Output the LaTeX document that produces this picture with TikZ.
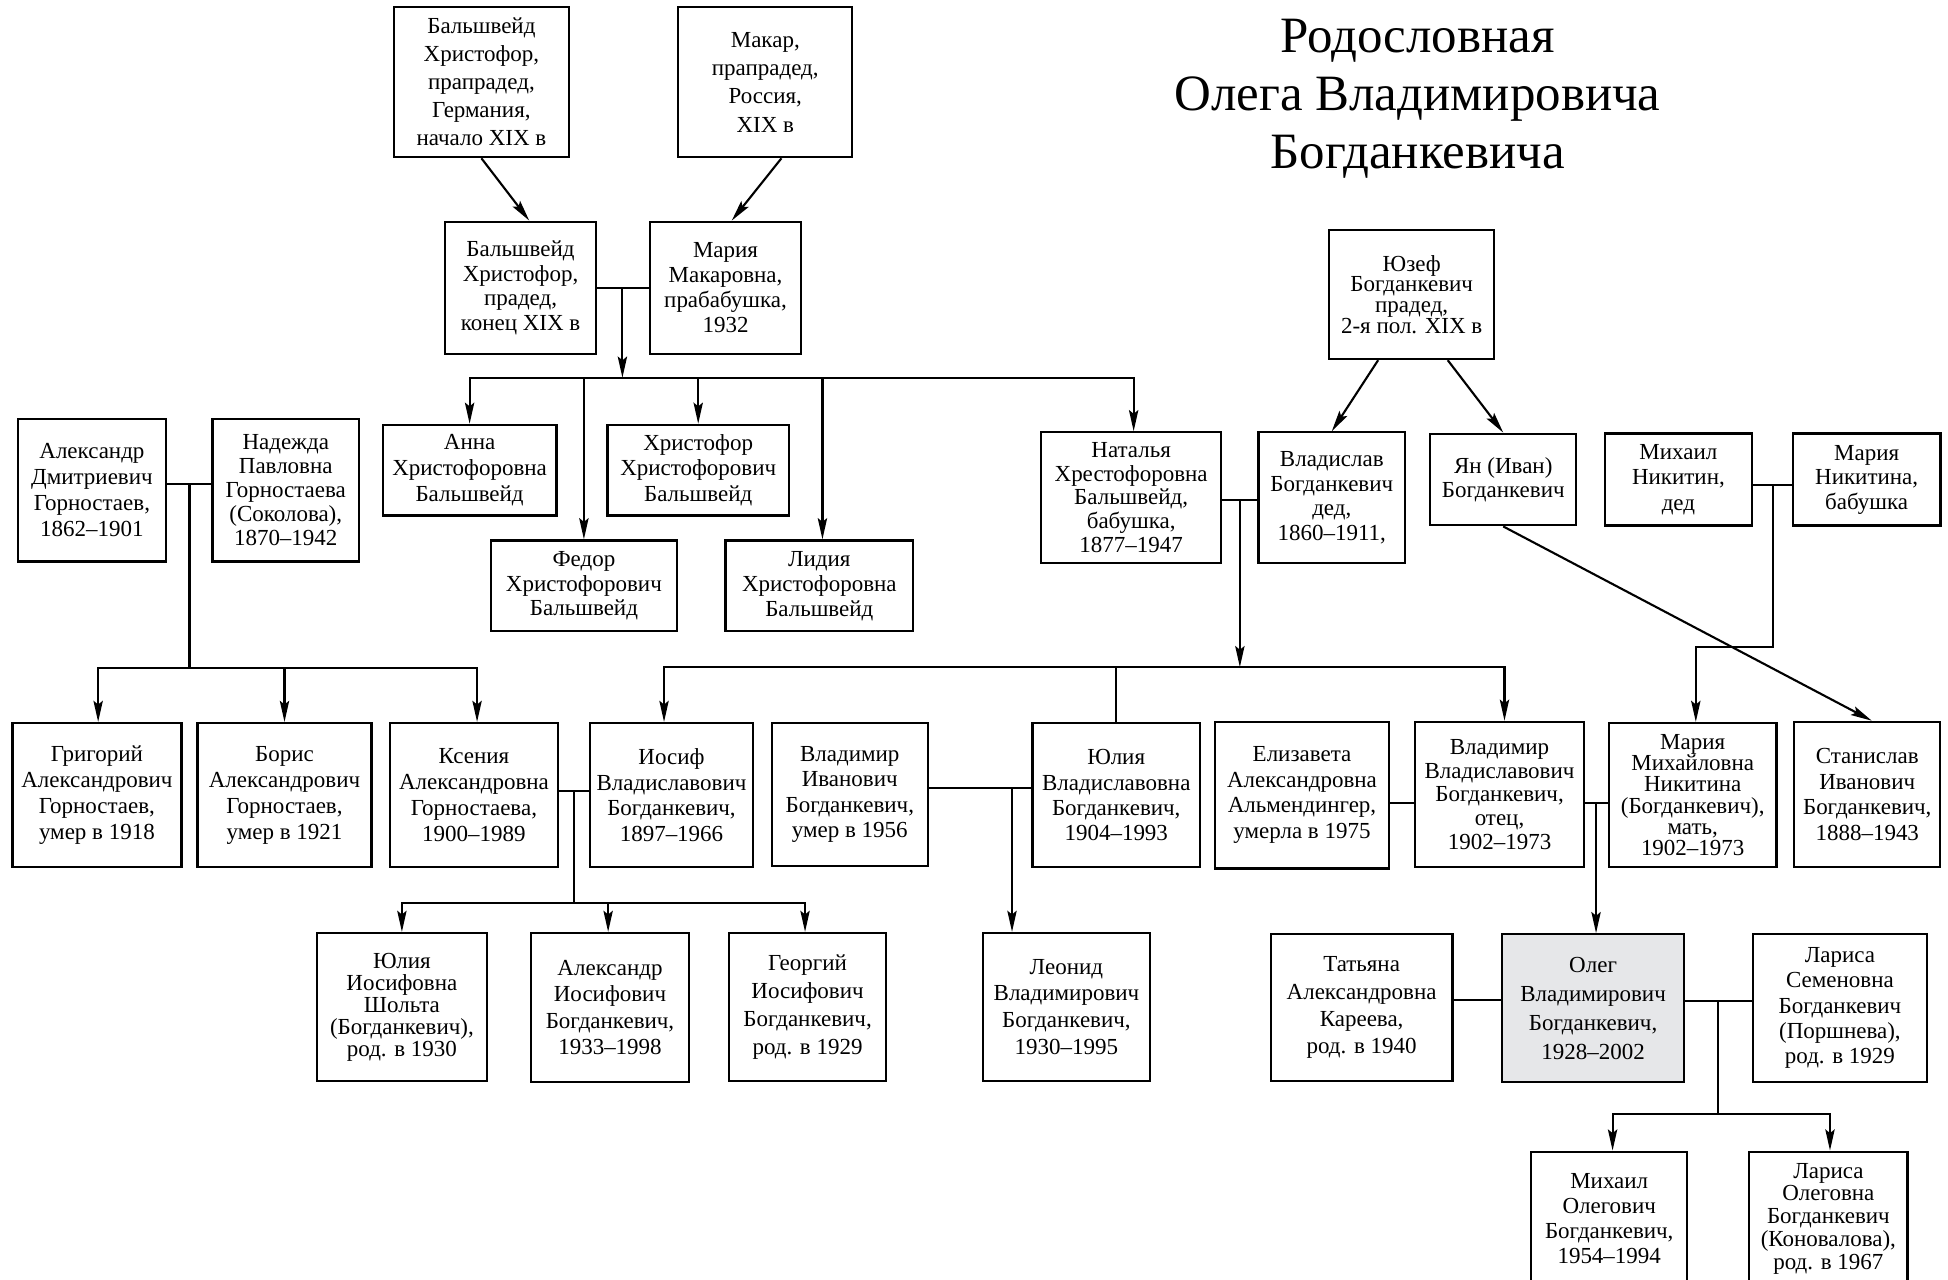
\documentclass[tikz,border=0pt]{standalone}
\usepackage{fontspec}
\setmainfont{Liberation Serif}
\usetikzlibrary{arrows.meta}
\definecolor{olegfill}{RGB}{230,231,233}
\begin{document}
\begin{tikzpicture}[x=1pt,y=-1pt,
  pbox/.style={draw, line width=1.8pt, align=center, inner sep=1pt, font=\fontsize{18.5}{21}\selectfont},
  ls/.style={font=\fontsize{18.5}{#1}\selectfont},
  ln/.style={line width=1.7pt},
  arr/.style={line width=1.7pt, -{Stealth[length=17pt,width=7.5pt,inset=3pt]}},
  titlefont/.style={font=\fontsize{41}{46.5}\selectfont}
]
\useasboundingbox (0,0) rectangle (1568,1030);
\clip (0,0) rectangle (1568,1030);

% title
\node[titlefont, align=center] (title) at (1141,79.5) {Родословная\\Олега Владимировича\\Богданкевича};

% top generations
\node[pbox, ls=22.5, minimum width=141pt, minimum height=121pt] (a1) at (387.5,66) {Бальшвейд\\Христофор,\\прапрадед,\\Германия,\\начало XIX в};
\node[pbox, ls=22.8, minimum width=140pt, minimum height=121pt] (a2) at (616,66) {Макар,\\прапрадед,\\Россия,\\XIX в};
\node[pbox, ls=19.6, minimum width=122pt, minimum height=106.5pt] (b1) at (419,231.7) {Бальшвейд\\Христофор,\\прадед,\\конец XIX в};
\node[pbox, ls=20, minimum width=122pt, minimum height=106.5pt] (b2) at (584,231.7) {Мария\\Макаровна,\\прабабушка,\\1932};
\node[pbox, ls=16.6, minimum width=132.6pt, minimum height=104pt] (yuzef) at (1136.3,237) {Юзеф\\Богданкевич\\прадед,\\2-я пол. XIX в};

% row 2
\node[pbox, ls=20.8, minimum width=140pt, minimum height=73pt] (anna) at (378,378.5) {Анна\\Христофоровна\\Бальшвейд};
\node[pbox, ls=19.7, minimum width=150pt, minimum height=73pt] (fedor) at (470,471.5) {Федор\\Христофорович\\Бальшвейд};
\node[pbox, ls=20.8, minimum width=146pt, minimum height=73pt] (hrist) at (562,378.5) {Христофор\\Христофорович\\Бальшвейд};
\node[pbox, ls=20.1, minimum width=151pt, minimum height=73pt] (lidia) at (659.5,471.5) {Лидия\\Христофоровна\\Бальшвейд};
\node[pbox, ls=19, minimum width=145pt, minimum height=105pt] (natal) at (910.5,400.5) {Наталья\\Хрестофоровна\\Бальшвейд,\\бабушка,\\1877–1947};
\node[pbox, ls=19.7, minimum width=118pt, minimum height=105pt] (vlad) at (1072,400.5) {Владислав\\Богданкевич\\дед,\\1860–1911,};
\node[pbox, ls=19.3, minimum width=117.6pt, minimum height=73.7pt] (yan) at (1210,386) {Ян (Иван)\\Богданкевич};
\node[pbox, ls=20.5, minimum width=118.4pt, minimum height=74pt] (mikh) at (1351,386) {Михаил\\Никитин,\\дед};
\node[pbox, ls=19.7, minimum width=119pt, minimum height=74pt] (mariaN) at (1502.5,386) {Мария\\Никитина,\\бабушка};
\node[pbox, ls=20.8, minimum width=119pt, minimum height=115pt] (alexD) at (74,394.5) {Александр\\Дмитриевич\\Горностаев,\\1862–1901};
\node[pbox, ls=19.3, minimum width=118pt, minimum height=115pt] (nadezh) at (230,394.5) {Надежда\\Павловна\\Горностаева\\(Соколова),\\1870–1942};

% row 3
\node[pbox, ls=21, minimum width=136pt, minimum height=116pt] (grig) at (78,640) {Григорий\\Александрович\\Горностаев,\\умер в 1918};
\node[pbox, ls=21, minimum width=140pt, minimum height=116pt] (boris) at (229,640) {Борис\\Александрович\\Горностаев,\\умер в 1921};
\node[pbox, ls=21, minimum width=135pt, minimum height=116pt] (ksen) at (381.5,640) {Ксения\\Александровна\\Горностаева,\\1900–1989};
\node[pbox, ls=20.8, minimum width=131pt, minimum height=116pt] (iosif) at (540.5,640) {Иосиф\\Владиславович\\Богданкевич,\\1897–1966};
\node[pbox, ls=20.3, minimum width=125.5pt, minimum height=115pt] (vladI) at (684,639.5) {Владимир\\Иванович\\Богданкевич,\\умер в 1956};
\node[pbox, ls=20.2, minimum width=135pt, minimum height=116pt] (yuliaV) at (898.5,640) {Юлия\\Владиславовна\\Богданкевич,\\1904–1993};
\node[pbox, ls=20.6, minimum width=140pt, minimum height=118pt] (eliz) at (1048,640) {Елизавета\\Александровна\\Альмендингер,\\умерла в 1975};
\node[pbox, ls=19.1, minimum width=136pt, minimum height=117pt] (vladV) at (1207,639.5) {Владимир\\Владиславович\\Богданкевич,\\отец,\\1902–1973};
\node[pbox, ls=17, minimum width=135pt, minimum height=116pt] (mariaM) at (1362.5,640) {Мария\\Михайловна\\Никитина\\(Богданкевич),\\мать,\\1902–1973};
\node[pbox, ls=20.6, minimum width=117.5pt, minimum height=117pt] (stan) at (1503,639.5) {Станислав\\Иванович\\Богданкевич,\\1888–1943};

% row 4
\node[pbox, ls=17.7, minimum width=137pt, minimum height=119pt] (yuliaI) at (323.5,810.5) {Юлия\\Иосифовна\\Шольта\\(Богданкевич),\\род. в 1930};
\node[pbox, ls=21, minimum width=127pt, minimum height=120pt] (alexI) at (491,811) {Александр\\Иосифович\\Богданкевич,\\1933–1998};
\node[pbox, ls=22.4, minimum width=126pt, minimum height=119pt] (georg) at (650,810.5) {Георгий\\Иосифович\\Богданкевич,\\род. в 1929};
\node[pbox, ls=21.5, minimum width=134.7pt, minimum height=119pt] (leon) at (858.4,810.5) {Леонид\\Владимирович\\Богданкевич,\\1930–1995};
\node[pbox, ls=21.9, minimum width=146.4pt, minimum height=118pt] (tat) at (1096,811) {Татьяна\\Александровна\\Кареева,\\род. в 1940};
\node[pbox, ls=23.3, minimum width=146.6pt, minimum height=119pt, fill=olegfill] (oleg) at (1282.3,811.5) {Олег\\Владимирович\\Богданкевич,\\1928–2002};
\node[pbox, ls=20.4, minimum width=140pt, minimum height=119pt] (larS) at (1481,811.5) {Лариса\\Семеновна\\Богданкевич\\(Поршнева),\\род. в 1929};

% row 5
\node[pbox, ls=20.1, minimum width=125.4pt, minimum height=108pt] (mikhO) at (1295.3,981) {Михаил\\Олегович\\Богданкевич,\\1954–1994};
\node[pbox, ls=18.4, minimum width=127.5pt, minimum height=108pt] (larO) at (1471.7,981) {Лариса\\Олеговна\\Богданкевич\\(Коновалова),\\род. в 1967};

% junction coordinates
\coordinate (jB) at (501,232);
\coordinate (jBbar) at (501,304);
\coordinate (jN) at (998,402.6);
\coordinate (jNbar) at (998,537);
\coordinate (jM) at (1426.8,390.4);
\coordinate (jMbend) at (1426.8,521);
\coordinate (jMdown) at (1365,521);
\coordinate (jA) at (152.5,389.7);
\coordinate (jAbar) at (152.5,538);
\coordinate (jK) at (462,636.7);
\coordinate (jKbar) at (462,726.6);
\coordinate (jV) at (814.6,634);
\coordinate (jE) at (1118,646.7);
\coordinate (jW) at (1284.7,646.7);
\coordinate (jT) at (1190,805);
\coordinate (jO) at (1383,806);
\coordinate (jObar) at (1383,897);

% great-great-grandparents to great-grandparents
\draw[arr] (a1.south) -- ([xshift=7pt]b1.north);
\draw[arr] ([xshift=13pt]a2.south) -- ([xshift=5pt]b2.north);
\draw[ln] (b1.east) -- (b2.west);
\draw[arr] (jBbar) -| (anna.north);
\draw[arr] (jBbar) -| ([xshift=2pt]natal.north);
\draw[arr] (jB) -- (jBbar);
\draw[arr] (fedor.north |- jBbar) -- (fedor.north);
\draw[arr] (hrist.north |- jBbar) -- (hrist.north);
\draw[arr] ([xshift=2.5pt]lidia.north |- jBbar) -- ([xshift=2.5pt]lidia.north);

% Yuzef
\draw[arr] ([xshift=-27pt]yuzef.south) -- (vlad.north);
\draw[arr] ([xshift=29pt]yuzef.south) -- (yan.north);

% Natalya + Vladislav
\draw[ln] (natal.east |- jN) -- (vlad.west |- jN);
\draw[arr] (jNbar) -| ([xshift=-6pt]iosif.north);
\draw[arr] (jNbar) -| ([xshift=4pt]vladV.north);
\draw[arr] (jN) -- (jNbar);
\draw[ln] (yuliaV.north |- jNbar) -- (yuliaV.north);

% Nikitins
\draw[ln] (mikh.east |- jM) -- (mariaN.west |- jM);
\draw[arr] (jM) -- (jMbend) -- (jMdown) -- (mariaM.north -| jMdown);

% Yan -> Stanislav
\draw[arr] (yan.south) -- ([xshift=3.6pt]stan.north);

% Gornostaev
\draw[ln] (alexD.east |- jA) -- (nadezh.west |- jA);
\draw[arr] (jAbar) -| ([xshift=1pt]grig.north);
\draw[arr] (jAbar) -| ([xshift=2.5pt]ksen.north);
\draw[ln] (jA) -- (jAbar);
\draw[arr] (boris.north |- jAbar) -- (boris.north);

% Kseniya + Iosif
\draw[ln] (ksen.east |- jK) -- (iosif.west |- jK);
\draw[arr] (jKbar) -| (yuliaI.north);
\draw[arr] (jKbar) -| ([xshift=-2pt]georg.north);
\draw[ln] (jK) -- (jKbar);
\draw[arr] ([xshift=-1.5pt]alexI.north |- jKbar) -- ([xshift=-1.5pt]alexI.north);

% Vladimir Ivanovich + Yuliya
\draw[ln] (vladI.east |- jV) -- (yuliaV.west |- jV);
\draw[arr] (jV) -- (leon.north -| jV);

% Elizaveta + Vladimir, Vladimir + Mariya
\draw[ln] (eliz.east |- jE) -- (vladV.west |- jE);
\draw[ln] (vladV.east |- jW) -- (mariaM.west |- jW);
\draw[arr] (jW) -- (oleg.north -| jW);

% Oleg marriages
\draw[ln] (tat.east |- jT) -- (oleg.west |- jT);
\draw[ln] (oleg.east |- jO) -- (larS.west |- jO);
\draw[arr] (jObar) -| ([xshift=2.7pt]mikhO.north);
\draw[arr] (jObar) -| ([xshift=1.3pt]larO.north);
\draw[ln] (jO) -- (jObar);
\end{tikzpicture}
\end{document}
